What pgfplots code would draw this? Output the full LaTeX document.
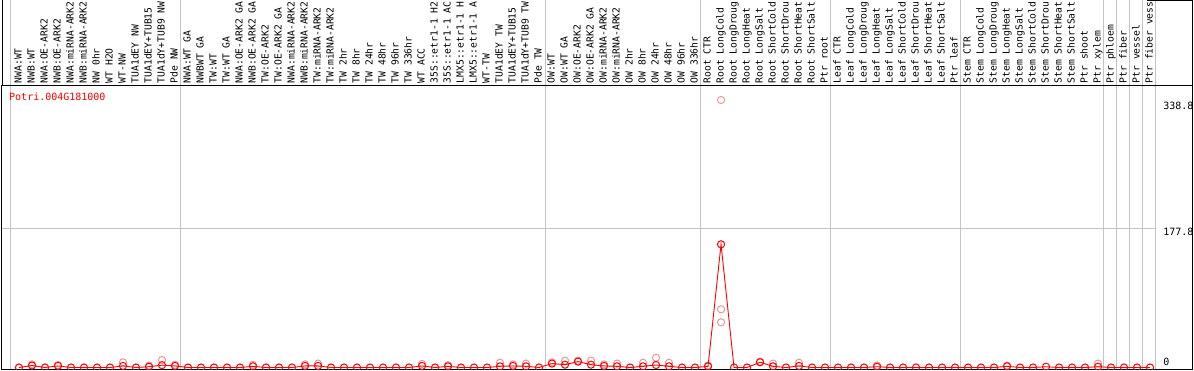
\documentclass[border=0pt]{standalone}
\usepackage{pgfplots}
\usepackage{pgfplotstable}
\pgfplotsset{compat=1.18}
\usepackage{fontspec}
\newfontfamily\mono{DejaVu Sans Mono}
\definecolor{gridgray}{RGB}{196,196,196}
\definecolor{repred}{RGB}{236,150,150}

\pgfplotstableread{
x y
0 0
1 2.5
2 0
3 2
4 0
5 0
6 0
7 0
8 2
9 0
10 1
11 3
12 2
13 0
14 0
15 0
16 0
17 0
18 1.5
19 0
20 0
21 0
22 2
23 2
24 0
25 0
26 0
27 0
28 0
29 0
30 0
31 2
32 0
33 1.5
34 0
35 0
36 0
37 1.5
38 2
39 1.5
40 0
41 5
42 3.6
43 7.5
44 3.6
45 2
46 1.5
47 0
48 1.5
49 3.2
50 1.5
51 0
52 0
53 1.5
54 157
55 0
56 0
57 6.7
58 1.5
59 0
60 2
61 0
62 0
63 0
64 0
65 0
66 1
67 0
68 0
69 0
70 0
71 0
72 0
73 0
74 0
75 0
76 1.5
77 0
78 0
79 1
80 0
81 0
82 0
83 1
84 0
85 0
86 0
87 0
}\means

\pgfplotstableread{
x y
1 4
3 3.2
8 6.6
10 2.5
11 9.5
12 3.5
18 3.4
22 4
23 5
31 4.5
33 3
37 6
38 4
39 5
41 6.6
42 8.7
43 8.7
44 8.7
45 4
46 5
48 6
49 12.5
50 6
53 2.5
54 341
54 74.2
54 57.6
57 7.5
58 5
60 6
66 2.5
76 2.5
83 5
}\reps

\begin{document}
\begin{tikzpicture}
\foreach \gx in {10,180,545,700,830,960,1103,1116,1129,1142,1155}
  \draw[gridgray, line width=1pt] (\gx pt,1pt) -- (\gx pt,370pt);
\begin{axis}[
  at={(2pt,1pt)}, anchor=south west,
  scale only axis, width=1190pt, height=283pt,
  xmin=-1.3077, xmax=90.2308, ymin=-1.91, ymax=358.8,
  axis line style={black, line width=1pt},
  xtick={0,...,87},
  xticklabels={NWA:WT,NWB:WT,NWA:OE-ARK2,NWB:OE-ARK2,NWA:miRNA-ARK2,NWB:miRNA-ARK2,NW 0hr,WT H2O,WT-NW,TUA1dEY NW,TUA1dEY+TUB15,TUA1dY+TUB9 NW,Pde NW,
    NWA:WT GA,NWBWT GA,TW:WT,TW:WT GA,NWA:OE-ARK2 GA,NWB:OE-ARK2 GA,TW:OE-ARK2,TW:OE-ARK2 GA,NWA:miRNA-ARK2,NWB:miRNA-ARK2,TW:miRNA-ARK2,TW:miRNA-ARK2,TW 2hr,TW 8hr,TW 24hr,TW 48hr,TW 96hr,TW 336hr,WT ACC,35S::etr1-1 H2,35S::etr1-1 AC,LMX5::etr1-1 H,LMX5::etr1-1 A,WT-TW,TUA1dEY TW,TUA1dEY+TUB15,TUA1dY+TUB9 TW,Pde TW,
    OW:WT,OW:WT GA,OW:OE-ARK2,OW:OE-ARK2 GA,OW:miRNA-ARK2,OW:miRNA-ARK2,OW 2hr,OW 8hr,OW 24hr,OW 48hr,OW 96hr,OW 336hr,
    Root CTR,Root LongCold,Root LongDroug,Root LongHeat,Root LongSalt,Root ShortCold,Root ShortDrou,Root ShortHeat,Root ShortSalt,Ptr root,
    Leaf CTR,Leaf LongCold,Leaf LongDroug,Leaf LongHeat,Leaf LongSalt,Leaf ShortCold,Leaf ShortDrou,Leaf ShortHeat,Leaf ShortSalt,Ptr leaf,
    Stem CTR,Stem LongCold,Stem LongDroug,Stem LongHeat,Stem LongSalt,Stem ShortCold,Stem ShortDrou,Stem ShortHeat,Stem ShortSalt,Ptr shoot,Ptr xylem,
    Ptr phloem,Ptr fiber,Ptr vessel,Ptr fiber vess},
  xticklabel pos=upper,
  ytick=\empty,
  major tick length=0pt,
  xticklabel style={font=\mono\fontsize{9.7}{10}\selectfont, inner sep=0pt, xshift=2.5pt, yshift=2.5pt, rotate=90, anchor=base west},
  clip marker paths=true,
]
\draw[gridgray, line width=1pt] (axis cs:-1.5,177.8) -- (axis cs:87.38,177.8);
\addplot[only marks, repred, mark=o, mark size=3.6pt, mark options={line width=1pt}] table {\reps};
\addplot[red, line width=0.9pt, mark=o, mark size=3.6pt, mark options={line width=1pt}] table {\means};
\node[anchor=north west, inner sep=0pt, font=\mono\fontsize{10}{10}\selectfont] at (axis cs:88.0,338.8) {338.8};
\node[anchor=north west, inner sep=0pt, font=\mono\fontsize{10}{10}\selectfont] at (axis cs:88.0,177.8) {177.8};
\node[anchor=base west, inner sep=0pt, font=\mono\fontsize{10}{10}\selectfont] at (axis cs:88.0,2) {0};
\end{axis}
\draw[black, line width=1pt] (2pt,284pt) -- (2pt,370pt);
\draw[black, line width=1pt] (1192pt,284pt) -- (1192pt,370pt);
\draw[black, line width=1pt] (1147pt,369.5pt) -- (1192pt,369.5pt);
\node[anchor=west, inner sep=0pt, text=red, font=\mono\fontsize{10}{10}\selectfont] at (9pt,273pt) {Potri.004G181000};
\pgfresetboundingbox
\useasboundingbox (0pt,0pt) rectangle (1194pt,370pt);
\end{tikzpicture}
\end{document}
